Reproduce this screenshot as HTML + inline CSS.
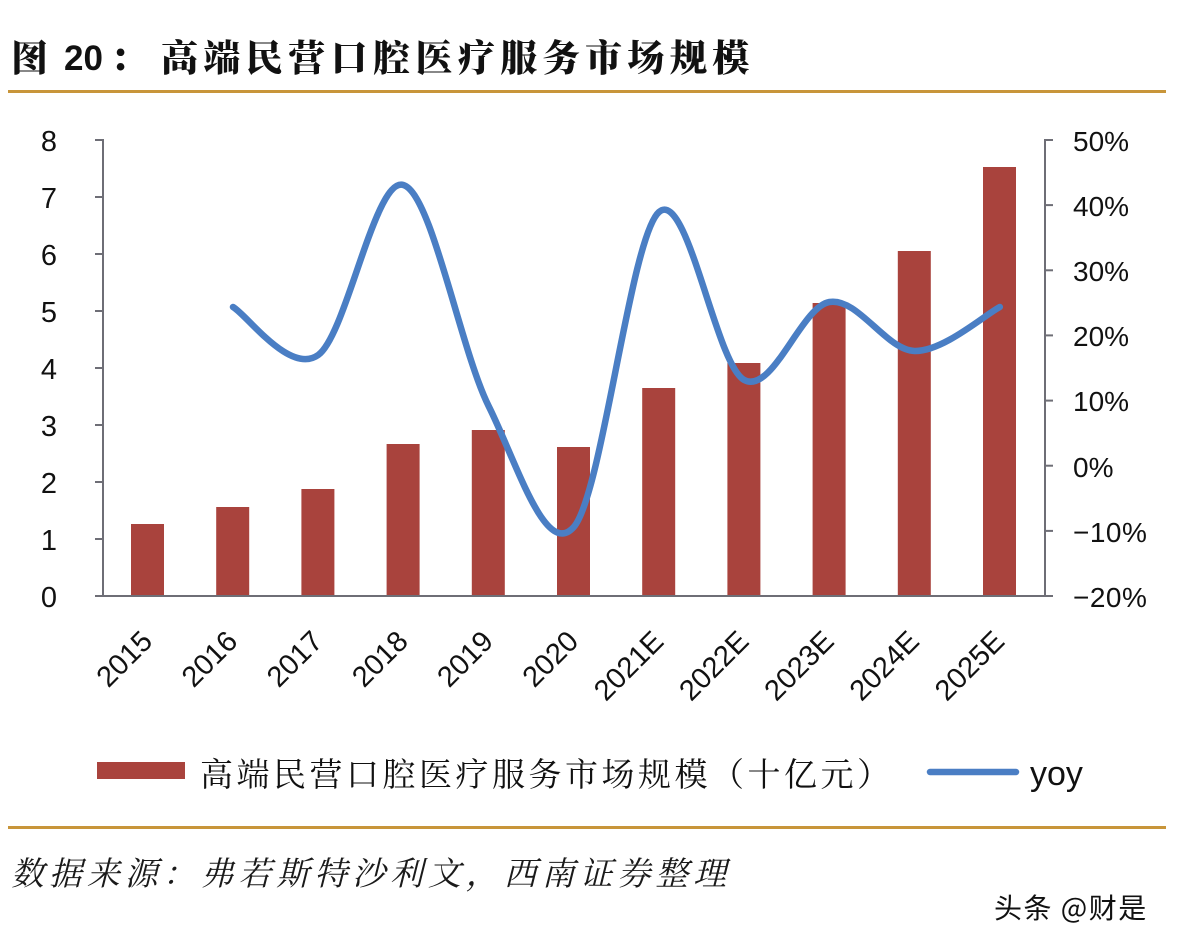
<!DOCTYPE html>
<html>
<head>
<meta charset="utf-8">
<style>
html,body{margin:0;padding:0;background:#fff;}
svg{display:block;}
</style>
</head>
<body>
<svg width="1178" height="948" viewBox="0 0 1178 948" xmlns="http://www.w3.org/2000/svg">
<rect width="1178" height="948" fill="#ffffff"/>

<!-- Title -->
<text x="11" y="71" font-family="'Noto Serif CJK SC','Noto Sans CJK SC',serif" font-weight="900" font-size="37" fill="#111">图</text>
<text x="64" y="70" font-family="'Liberation Sans',sans-serif" font-weight="700" font-size="35" fill="#111">20</text>
<text x="110" y="71" font-family="'Noto Serif CJK SC','Noto Sans CJK SC',serif" font-weight="900" font-size="37" fill="#111">：</text>
<text x="161" y="71" font-family="'Noto Serif CJK SC','Noto Sans CJK SC',serif" font-weight="900" font-size="37" letter-spacing="5.4" fill="#111">高端民营口腔医疗服务市场规模</text>

<!-- top rule -->
<rect x="8" y="90" width="1158" height="3" fill="#C8953A"/>

<!-- Bars -->
<g fill="#A9433D">
<rect x="131" y="524" width="33" height="72"/>
<rect x="216.2" y="507" width="33" height="89"/>
<rect x="301.4" y="489" width="33" height="107"/>
<rect x="386.6" y="444" width="33" height="152"/>
<rect x="471.8" y="430" width="33" height="166"/>
<rect x="557" y="447" width="33" height="149"/>
<rect x="642.2" y="388" width="33" height="208"/>
<rect x="727.4" y="363" width="33" height="233"/>
<rect x="812.6" y="303" width="33" height="293"/>
<rect x="897.8" y="251" width="33" height="345"/>
<rect x="983" y="167" width="33" height="429"/>
</g>

<!-- Axes -->
<g stroke="#6E6E76" stroke-width="2" fill="none">
<line x1="103" y1="139" x2="103" y2="597"/>
<line x1="95" y1="596" x2="1053" y2="596"/>
<line x1="1045" y1="139" x2="1045" y2="597"/>
<line x1="95" y1="140" x2="103" y2="140"/>
<line x1="95" y1="197" x2="103" y2="197"/>
<line x1="95" y1="254" x2="103" y2="254"/>
<line x1="95" y1="311" x2="103" y2="311"/>
<line x1="95" y1="368" x2="103" y2="368"/>
<line x1="95" y1="425" x2="103" y2="425"/>
<line x1="95" y1="482" x2="103" y2="482"/>
<line x1="95" y1="539" x2="103" y2="539"/>
<line x1="1045" y1="140" x2="1053" y2="140"/>
<line x1="1045" y1="205.1" x2="1053" y2="205.1"/>
<line x1="1045" y1="270.3" x2="1053" y2="270.3"/>
<line x1="1045" y1="335.4" x2="1053" y2="335.4"/>
<line x1="1045" y1="400.6" x2="1053" y2="400.6"/>
<line x1="1045" y1="465.7" x2="1053" y2="465.7"/>
<line x1="1045" y1="530.9" x2="1053" y2="530.9"/>
</g>

<!-- Left labels -->
<g font-family="'Liberation Sans',sans-serif" font-size="29" fill="#111" text-anchor="end">
<text x="57" y="151">8</text>
<text x="57" y="208">7</text>
<text x="57" y="265">6</text>
<text x="57" y="322">5</text>
<text x="57" y="379">4</text>
<text x="57" y="436">3</text>
<text x="57" y="493">2</text>
<text x="57" y="550">1</text>
<text x="57" y="607">0</text>
</g>

<!-- Right labels -->
<g font-family="'Liberation Sans',sans-serif" font-size="28" fill="#111">
<text x="1073" y="151">50%</text>
<text x="1073" y="216">40%</text>
<text x="1073" y="281">30%</text>
<text x="1073" y="346">20%</text>
<text x="1073" y="411">10%</text>
<text x="1073" y="477">0%</text>
<text x="1073" y="542" letter-spacing="0.5">−10%</text>
<text x="1073" y="607" letter-spacing="0.5">−20%</text>
</g>

<!-- X labels -->
<g font-family="'Liberation Sans',sans-serif" font-size="29" fill="#111" text-anchor="end">
<text x="154" y="643" transform="rotate(-45 154 643)">2015</text>
<text x="239.2" y="643" transform="rotate(-45 239.2 643)">2016</text>
<text x="324.4" y="643" transform="rotate(-45 324.4 643)">2017</text>
<text x="409.6" y="643" transform="rotate(-45 409.6 643)">2018</text>
<text x="494.8" y="643" transform="rotate(-45 494.8 643)">2019</text>
<text x="580" y="643" transform="rotate(-45 580 643)">2020</text>
<text x="665.2" y="643" transform="rotate(-45 665.2 643)">2021E</text>
<text x="750.4" y="643" transform="rotate(-45 750.4 643)">2022E</text>
<text x="835.6" y="643" transform="rotate(-45 835.6 643)">2023E</text>
<text x="920.8" y="643" transform="rotate(-45 920.8 643)">2024E</text>
<text x="1006" y="643" transform="rotate(-45 1006 643)">2025E</text>
</g>

<!-- YoY line -->
<path d="M233,307 C247.2,315 289.8,375.3 318.2,355 C346.6,334.7 375,176.5 403.4,185 C431.8,193.5 460.2,349 488.6,406 C517,463 545.4,559.3 573.8,527 C602.2,494.7 630.6,236.5 659,212 C687.4,187.5 715.8,365 744.2,380 C772.6,395 801,306.8 829.4,302 C857.8,297.2 886.2,350.2 914.6,351 C943,351.8 985.6,314.3 999.8,307"
 fill="none" stroke="#4A7EC4" stroke-width="6.5" stroke-linecap="round" stroke-linejoin="round"/>

<!-- Legend -->
<rect x="97" y="762" width="88" height="17" fill="#A9433D"/>
<text x="200" y="786" font-family="'Noto Serif CJK SC','Noto Sans CJK SC',serif" font-size="33" letter-spacing="3.5" fill="#111">高端民营口腔医疗服务市场规模（十亿元）</text>
<line x1="930" y1="772" x2="1016" y2="772" stroke="#4A7EC4" stroke-width="6.5" stroke-linecap="round"/>
<text x="1030" y="785" font-family="'Liberation Sans',sans-serif" font-size="34" fill="#111">yoy</text>

<!-- bottom rule -->
<rect x="8" y="826" width="1158" height="3" fill="#C8953A"/>

<!-- Source -->
<text x="11" y="885" font-family="'Noto Serif CJK SC','Noto Sans CJK SC',serif" font-size="33" font-style="italic" letter-spacing="4.9" fill="#1a1a1a">数据来源：弗若斯特沙利文，西南证券整理</text>

<!-- Watermark -->
<text x="994" y="918" font-family="'Noto Sans CJK SC','WenQuanYi Zen Hei',sans-serif" font-size="28" letter-spacing="1.5" fill="#111">头条 @财是</text>
</svg>
</body>
</html>
